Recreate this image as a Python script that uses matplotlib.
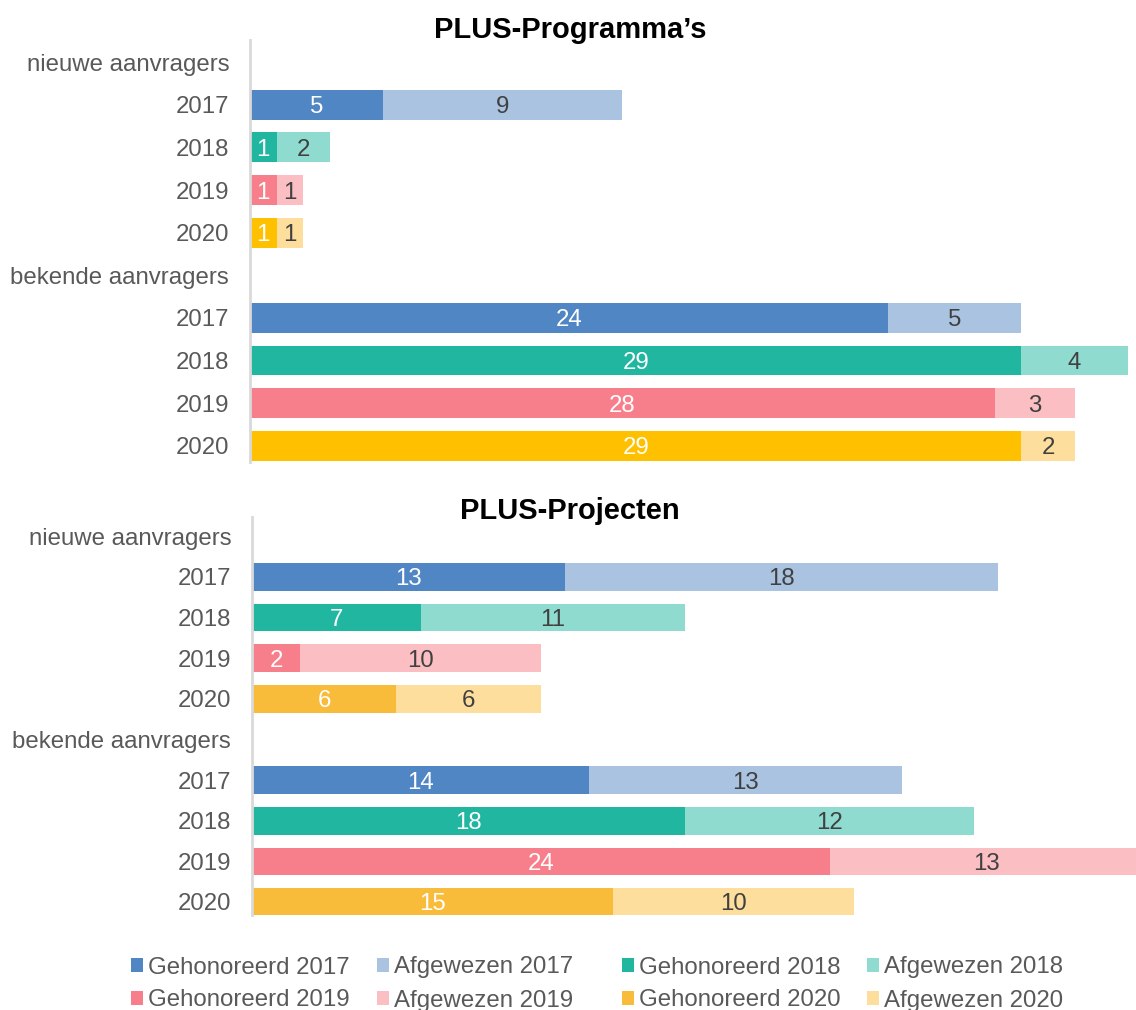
import matplotlib.pyplot as plt
from matplotlib.patches import Rectangle

plt.rcParams['font.family'] = ['Liberation Sans', 'DejaVu Sans']

# categories (rows, top to bottom)
row_labels = ['nieuwe aanvragers', '2017', '2018', '2019', '2020',
              'bekende aanvragers', '2017', '2018', '2019', '2020']
years = ['2017', '2018', '2019', '2020']

# PLUS-Programma's
prog_new_hon = [5, 1, 1, 1]
prog_new_afg = [9, 2, 1, 1]
prog_known_hon = [24, 29, 28, 29]
prog_known_afg = [5, 4, 3, 2]

# PLUS-Projecten
proj_new_hon = [13, 7, 2, 6]
proj_new_afg = [18, 11, 10, 6]
proj_known_hon = [14, 18, 24, 15]
proj_known_afg = [13, 12, 13, 10]

dark_top = ['#5086C4', '#21B6A0', '#F77F8C', '#FFC000']
dark_bot = ['#5086C4', '#21B6A0', '#F77F8C', '#F9BC3A']
light = ['#A9C3E1', '#8FDBD0', '#FABEC3', '#FDDE9C']

TXT = '#595959'
FS = 17.3


def draw_panel(ax, new_hon, new_afg, known_hon, known_afg, darks, xmax, ylim, bh):
    rows_new = [1, 2, 3, 4]
    rows_known = [6, 7, 8, 9]
    for rows, hon, afg in [(rows_new, new_hon, new_afg), (rows_known, known_hon, known_afg)]:
        for i, r in enumerate(rows):
            ax.barh(r, hon[i], height=bh, color=darks[i], linewidth=0)
            ax.barh(r, afg[i], left=hon[i], height=bh, color=light[i], linewidth=0)
            ax.text(hon[i] / 2, r, str(hon[i]), ha='center', va='center_baseline',
                    color='white', fontsize=FS)
            ax.text(hon[i] + afg[i] / 2, r, str(afg[i]), ha='center', va='center_baseline',
                    color='#404040', fontsize=FS)
    ax.set_xlim(0, xmax)
    ax.set_ylim(*ylim)
    ax.set_yticks(range(10))
    ax.set_yticklabels(row_labels, fontsize=FS, color=TXT)
    ax.tick_params(axis='y', length=0, pad=15)
    ax.set_xticks([])
    for s in ['top', 'right', 'bottom']:
        ax.spines[s].set_visible(False)
    ax.spines['left'].set_color('#D9D9D9')
    ax.spines['left'].set_linewidth(2)


fig = plt.figure(figsize=(11.36, 10.10), dpi=100)

W, H = 1136, 1010
ax1 = fig.add_axes([250 / W, 1 - 462 / H, (W - 250) / W, 422 / H])
draw_panel(ax1, prog_new_hon, prog_new_afg, prog_known_hon, prog_known_afg,
           dark_top, (W - 250) / 26.6, (9.38, -0.52), 0.7)

ax2 = fig.add_axes([252 / W, 1 - 915 / H, (W - 252) / W, 398 / H])
draw_panel(ax2, proj_new_hon, proj_new_afg, proj_known_hon, proj_known_afg,
           dark_bot, (W - 252) / 24.08, (9.32, -0.47), 0.68)

fig.text(570 / W, 1 - 30 / H, 'PLUS-Programma\u2019s', ha='center', va='center',
         fontsize=21, fontweight='bold', color='black')
fig.text(570 / W, 1 - 511 / H, 'PLUS-Projecten', ha='center', va='center',
         fontsize=21, fontweight='bold', color='black')

# legend, laid out as evenly spaced entries
leg_labels = []
leg_colors = []
for i, y in enumerate(years):
    leg_labels += ['Gehonoreerd ' + y, 'Afgewezen ' + y]
    leg_colors += [dark_bot[i], light[i]]
col_x = [131, 377, 622, 867]
row_y = [965, 998]
for k, (lab, col) in enumerate(zip(leg_labels, leg_colors)):
    cx = col_x[k % 4]
    cy = row_y[k // 4]
    fig.patches.append(Rectangle((cx / W, 1 - (cy + 7) / H), 12 / W, 14 / H,
                                 transform=fig.transFigure, color=col, linewidth=0))
    fig.text((cx + 17) / W, 1 - cy / H, lab, ha='left', va='center_baseline',
             fontsize=FS, color=TXT)

fig.savefig('out.png', dpi=100)
